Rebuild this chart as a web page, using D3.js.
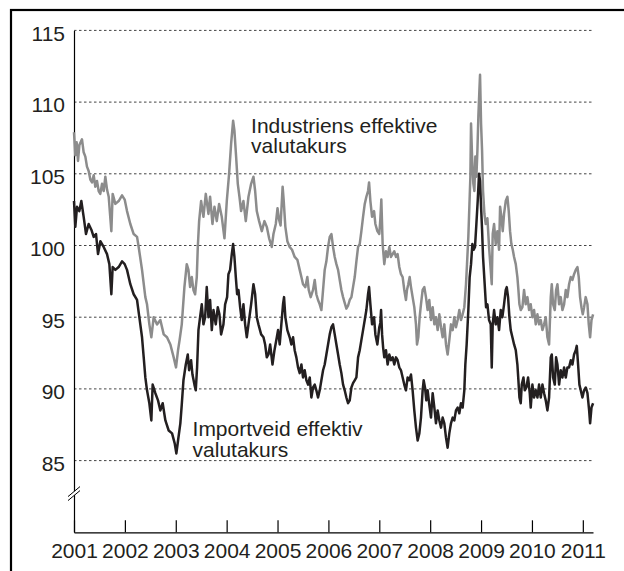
<!DOCTYPE html>
<head>
  <script src="https://d3js.org/d3.v7.min.js"></script>
  <meta charset='utf-8'>
  <style>
    body {
      margin: 0;
      background: white;
    }
    svg text {
      font-family: "Liberation Sans", Arial, Helvetica, sans-serif;
      font-size: 21px;
      fill: #231f20;
    }
  </style>
</head>

<body>
<div id="chart"></div>

<script>

// year ticks on the x axis
const xTicks = [2001, 2002, 2003, 2004, 2005, 2006, 2007, 2008, 2009, 2010, 2011];
// index ticks on the y axis
const yTicks = [85, 90, 95, 100, 105, 110, 115];

// Industriens effektive valutakurs (grey) - [year, index]
const industri = [
  [2001.000,107.9],[2001.026,106.3],[2001.052,107.2],[2001.079,105.9],[2001.105,107.0],[2001.157,107.4],
  [2001.190,106.5],[2001.223,106.2],[2001.255,105.5],[2001.288,105.2],[2001.321,104.6],[2001.354,104.4],
  [2001.387,104.9],[2001.419,104.1],[2001.452,104.5],[2001.485,103.8],[2001.517,103.6],[2001.550,104.3],
  [2001.583,103.8],[2001.616,104.8],[2001.649,103.9],[2001.682,103.4],[2001.734,101.0],[2001.760,103.6],
  [2001.813,102.9],[2001.878,103.1],[2001.944,103.5],[2001.996,103.2],[2002.042,102.4],[2002.107,101.5],
  [2002.173,100.8],[2002.239,100.6],[2002.271,99.9],[2002.337,98.3],[2002.402,96.4],[2002.435,95.9],
  [2002.481,94.5],[2002.520,93.6],[2002.566,95.0],[2002.632,94.5],[2002.697,94.8],[2002.763,93.8],
  [2002.828,93.6],[2002.894,93.1],[2002.959,92.2],[2003.005,91.5],[2003.045,92.7],[2003.075,93.4],
  [2003.118,94.5],[2003.170,97.1],[2003.216,98.7],[2003.249,98.3],[2003.282,97.1],[2003.315,97.8],
  [2003.347,96.9],[2003.380,96.6],[2003.413,97.8],[2003.433,99.9],[2003.459,101.7],[2003.498,103.1],
  [2003.544,102.0],[2003.590,103.6],[2003.642,102.2],[2003.675,103.4],[2003.721,101.5],[2003.760,102.7],
  [2003.806,101.7],[2003.852,102.9],[2003.904,102.0],[2003.957,100.5],[2004.003,103.1],[2004.048,105.0],
  [2004.088,107.1],[2004.127,108.7],[2004.153,108.0],[2004.186,106.2],[2004.219,104.3],[2004.252,103.4],
  [2004.284,102.4],[2004.330,103.1],[2004.376,101.7],[2004.429,103.4],[2004.481,104.3],[2004.527,104.8],
  [2004.560,103.8],[2004.592,102.4],[2004.638,101.7],[2004.691,101.0],[2004.743,101.7],[2004.789,101.3],
  [2004.835,100.5],[2004.887,99.9],[2004.920,100.8],[2004.966,101.5],[2005.000,102.6],[2005.030,101.8],
  [2005.060,101.4],[2005.100,104.1],[2005.120,103.2],[2005.154,101.3],[2005.193,100.3],[2005.239,99.9],
  [2005.285,99.7],[2005.337,99.2],[2005.390,99.0],[2005.436,98.3],[2005.469,97.8],[2005.501,97.3],
  [2005.547,97.1],[2005.586,97.8],[2005.613,96.9],[2005.652,96.4],[2005.698,96.9],[2005.731,97.6],
  [2005.763,96.6],[2005.796,96.2],[2005.829,95.9],[2005.862,95.5],[2005.895,96.9],[2005.927,98.3],
  [2005.960,98.9],[2005.993,99.9],[2006.026,100.6],[2006.059,100.8],[2006.091,99.9],[2006.124,99.2],
  [2006.157,98.7],[2006.190,98.3],[2006.222,97.6],[2006.255,96.9],[2006.288,96.4],[2006.320,96.0],
  [2006.353,95.6],[2006.386,95.8],[2006.419,96.2],[2006.452,96.4],[2006.484,97.1],[2006.517,97.8],
  [2006.550,98.9],[2006.583,99.9],[2006.615,100.1],[2006.648,101.0],[2006.681,102.0],[2006.714,102.9],
  [2006.746,103.4],[2006.779,103.8],[2006.799,104.4],[2006.825,103.1],[2006.858,102.0],[2006.897,102.4],
  [2006.923,101.5],[2006.962,101.0],[2007.000,100.8],[2007.020,101.8],[2007.040,103.2],[2007.066,100.1],
  [2007.098,98.7],[2007.131,99.6],[2007.164,99.2],[2007.197,99.9],[2007.229,99.2],[2007.262,99.4],
  [2007.295,99.6],[2007.328,99.2],[2007.360,99.4],[2007.393,98.5],[2007.426,98.0],[2007.459,97.8],
  [2007.491,96.9],[2007.524,96.2],[2007.544,96.9],[2007.570,97.3],[2007.597,97.8],[2007.623,97.1],
  [2007.655,96.4],[2007.688,95.7],[2007.721,94.5],[2007.741,93.1],[2007.767,93.6],[2007.793,95.0],
  [2007.819,95.9],[2007.852,96.9],[2007.885,97.1],[2007.917,96.4],[2007.950,95.5],[2007.983,96.2],
  [2008.016,94.8],[2008.049,95.7],[2008.082,94.5],[2008.114,95.0],[2008.147,94.1],[2008.180,95.2],
  [2008.213,94.3],[2008.245,93.6],[2008.278,94.5],[2008.311,93.1],[2008.343,92.4],[2008.376,93.4],
  [2008.409,94.5],[2008.442,94.1],[2008.474,95.0],[2008.507,94.3],[2008.540,94.8],[2008.573,95.5],
  [2008.605,94.8],[2008.638,95.2],[2008.671,95.7],[2008.704,97.3],[2008.724,98.7],[2008.750,100.6],
  [2008.770,102.7],[2008.790,104.8],[2008.803,108.5],[2008.823,106.2],[2008.849,104.3],[2008.869,103.8],
  [2008.888,106.2],[2008.908,104.8],[2008.928,106.6],[2008.947,109.0],[2008.967,110.8],[2008.980,111.9],
  [2009.000,108.5],[2009.020,106.6],[2009.039,103.8],[2009.066,102.2],[2009.092,101.5],[2009.125,101.9],
  [2009.157,99.9],[2009.190,98.3],[2009.210,97.3],[2009.229,100.8],[2009.256,101.5],[2009.288,100.1],
  [2009.321,101.0],[2009.354,99.7],[2009.374,102.7],[2009.400,102.0],[2009.426,101.0],[2009.452,102.2],
  [2009.485,103.1],[2009.518,103.4],[2009.544,102.4],[2009.570,101.0],[2009.596,100.1],[2009.623,99.7],
  [2009.649,99.2],[2009.682,98.7],[2009.714,97.8],[2009.734,96.9],[2009.754,95.9],[2009.780,95.5],
  [2009.813,95.7],[2009.845,96.9],[2009.878,95.9],[2009.911,96.4],[2009.944,95.5],[2009.976,95.9],
  [2010.009,95.0],[2010.042,95.5],[2010.075,94.5],[2010.108,95.2],[2010.140,94.5],[2010.173,94.8],
  [2010.206,94.1],[2010.239,94.5],[2010.271,95.0],[2010.304,93.6],[2010.337,93.1],[2010.370,96.4],
  [2010.390,97.3],[2010.416,95.9],[2010.449,95.5],[2010.475,96.9],[2010.501,97.3],[2010.534,95.9],
  [2010.566,96.4],[2010.599,95.5],[2010.632,95.9],[2010.665,96.9],[2010.697,96.4],[2010.730,97.3],
  [2010.763,97.8],[2010.796,97.6],[2010.828,98.0],[2010.861,98.3],[2010.894,98.5],[2010.920,97.8],
  [2010.946,96.4],[2010.973,95.7],[2010.999,95.2],[2011.025,95.7],[2011.056,96.4],[2011.091,95.9],
  [2011.117,94.5],[2011.143,93.6],[2011.170,94.8],[2011.202,95.2]
];

// Importveid effektiv valutakurs (black) - [year, index]
const importveid = [
  [2001.000,103.1],[2001.026,101.3],[2001.059,102.7],[2001.105,102.4],[2001.144,103.1],[2001.190,102.0],
  [2001.236,100.8],[2001.288,101.5],[2001.341,101.1],[2001.387,100.6],[2001.433,100.8],[2001.472,99.4],
  [2001.518,100.3],[2001.583,99.9],[2001.649,99.4],[2001.695,98.7],[2001.734,96.6],[2001.760,98.5],
  [2001.813,98.3],[2001.878,98.5],[2001.944,98.9],[2001.996,98.7],[2002.042,98.3],[2002.107,97.3],
  [2002.173,96.6],[2002.239,96.2],[2002.284,95.0],[2002.337,93.6],[2002.370,92.2],[2002.402,90.8],
  [2002.435,89.9],[2002.481,89.0],[2002.520,87.8],[2002.546,90.3],[2002.599,89.7],[2002.651,89.2],
  [2002.697,88.5],[2002.743,89.0],[2002.796,87.8],[2002.861,87.1],[2002.927,86.9],[2002.979,86.2],
  [2003.012,85.5],[2003.045,86.4],[2003.090,87.6],[2003.118,88.9],[2003.151,90.6],[2003.197,91.7],
  [2003.236,92.4],[2003.262,91.3],[2003.301,92.0],[2003.328,91.0],[2003.367,90.3],[2003.393,89.9],
  [2003.419,91.5],[2003.446,94.1],[2003.478,95.0],[2003.511,95.9],[2003.544,94.5],[2003.577,95.0],
  [2003.609,97.1],[2003.642,95.0],[2003.675,96.2],[2003.708,94.1],[2003.741,95.5],[2003.786,94.5],
  [2003.826,95.7],[2003.858,95.2],[2003.891,93.8],[2003.937,94.5],[2003.970,95.9],[2004.009,96.4],
  [2004.035,98.0],[2004.068,98.3],[2004.101,99.4],[2004.127,100.1],[2004.153,99.2],[2004.180,97.8],
  [2004.206,96.6],[2004.232,96.9],[2004.265,95.7],[2004.297,94.8],[2004.330,95.9],[2004.363,94.5],
  [2004.396,93.6],[2004.429,94.5],[2004.481,95.9],[2004.527,97.3],[2004.560,96.6],[2004.592,95.0],
  [2004.625,94.5],[2004.678,93.8],[2004.724,93.6],[2004.756,93.1],[2004.789,92.2],[2004.822,92.4],
  [2004.855,93.1],[2004.901,91.7],[2004.940,92.7],[2004.986,93.6],[2005.010,94.1],[2005.043,93.1],
  [2005.075,94.5],[2005.108,95.9],[2005.128,96.4],[2005.154,95.0],[2005.193,94.1],[2005.239,93.6],
  [2005.272,93.1],[2005.305,93.6],[2005.337,92.7],[2005.370,92.2],[2005.403,91.5],[2005.436,91.1],
  [2005.469,91.7],[2005.501,90.8],[2005.534,91.3],[2005.567,90.6],[2005.600,90.3],[2005.633,90.8],
  [2005.665,89.4],[2005.698,90.1],[2005.731,90.3],[2005.763,89.9],[2005.796,89.4],[2005.829,89.9],
  [2005.862,90.6],[2005.895,91.3],[2005.927,91.7],[2005.960,92.4],[2005.993,93.1],[2006.026,93.8],
  [2006.059,94.3],[2006.091,94.5],[2006.124,93.8],[2006.157,93.1],[2006.190,92.4],[2006.222,91.7],
  [2006.255,91.1],[2006.288,90.3],[2006.320,89.9],[2006.353,89.4],[2006.386,89.0],[2006.419,89.2],
  [2006.452,90.1],[2006.484,90.4],[2006.517,90.6],[2006.550,90.8],[2006.583,92.2],[2006.615,92.7],
  [2006.648,93.4],[2006.681,94.1],[2006.714,94.8],[2006.746,95.5],[2006.779,96.6],[2006.799,97.1],
  [2006.825,95.9],[2006.858,94.5],[2006.897,95.0],[2006.923,93.8],[2006.962,93.1],[2007.000,94.3],
  [2007.020,94.6],[2007.035,95.5],[2007.055,93.8],[2007.075,92.9],[2007.098,92.2],[2007.131,92.7],
  [2007.164,91.7],[2007.197,92.4],[2007.229,92.0],[2007.262,92.2],[2007.295,91.7],[2007.328,92.2],
  [2007.360,92.0],[2007.393,91.5],[2007.426,91.3],[2007.459,90.8],[2007.491,90.3],[2007.524,89.9],
  [2007.557,90.8],[2007.590,90.6],[2007.623,91.0],[2007.655,89.9],[2007.688,88.5],[2007.721,87.3],
  [2007.754,86.4],[2007.787,86.9],[2007.819,88.0],[2007.852,89.9],[2007.872,90.6],[2007.898,90.1],
  [2007.924,89.2],[2007.950,89.9],[2007.983,88.9],[2008.016,88.0],[2008.049,89.7],[2008.082,88.7],
  [2008.114,87.6],[2008.147,88.5],[2008.180,87.8],[2008.213,87.3],[2008.245,88.0],[2008.278,87.6],
  [2008.311,86.6],[2008.343,85.9],[2008.376,86.9],[2008.409,87.6],[2008.442,88.0],[2008.474,87.8],
  [2008.507,88.5],[2008.540,88.7],[2008.573,88.3],[2008.605,89.0],[2008.638,88.7],[2008.671,89.9],
  [2008.691,91.7],[2008.717,93.1],[2008.750,95.5],[2008.776,97.8],[2008.803,98.7],[2008.829,100.1],
  [2008.855,99.7],[2008.881,99.9],[2008.908,101.5],[2008.934,103.1],[2008.960,105.0],[2008.980,104.5],
  [2009.000,102.7],[2009.020,101.1],[2009.039,99.2],[2009.066,97.6],[2009.098,95.7],[2009.125,95.9],
  [2009.157,94.8],[2009.190,94.5],[2009.210,91.5],[2009.229,94.5],[2009.256,95.5],[2009.288,94.5],
  [2009.321,95.0],[2009.354,94.1],[2009.387,95.5],[2009.419,95.0],[2009.452,95.9],[2009.485,96.9],
  [2009.505,97.1],[2009.531,96.4],[2009.557,95.0],[2009.583,94.1],[2009.616,93.6],[2009.649,93.1],
  [2009.682,92.7],[2009.714,91.7],[2009.734,90.6],[2009.754,89.4],[2009.780,89.0],[2009.800,90.3],
  [2009.833,90.8],[2009.859,89.9],[2009.891,90.1],[2009.924,90.8],[2009.957,89.7],[2009.976,88.7],
  [2010.009,90.3],[2010.042,89.4],[2010.075,89.9],[2010.108,89.4],[2010.140,90.3],[2010.173,89.4],
  [2010.206,90.3],[2010.239,89.7],[2010.271,89.2],[2010.304,88.5],[2010.337,89.4],[2010.370,92.2],
  [2010.390,92.4],[2010.416,90.8],[2010.449,90.3],[2010.475,92.2],[2010.501,91.7],[2010.534,90.3],
  [2010.566,91.3],[2010.599,90.8],[2010.632,91.5],[2010.665,90.8],[2010.697,91.5],[2010.730,91.5],
  [2010.763,92.0],[2010.796,91.7],[2010.828,92.4],[2010.861,92.7],[2010.881,93.0],[2010.907,91.7],
  [2010.933,90.3],[2010.959,89.9],[2010.992,89.4],[2011.025,89.9],[2011.058,90.1],[2011.091,89.7],
  [2011.124,88.5],[2011.143,87.6],[2011.170,88.7],[2011.202,89.0]
];

const labels = [
  {lines: ["Industriens effektive", "valutakurs"], year: 2004.48, value: 107.85},
  {lines: ["Importveid effektiv", "valutakurs"], year: 2003.33, value: 86.7}
];

var width = 624, height = 571;
var margin = {top: 30.4, right: 31, bottom: 38.7, left: 74};

var svg = d3.select("#chart").append("svg")
    .attr("width", width)
    .attr("height", height);

// frame (only top and left edges fall inside the picture)
svg.append("rect")
    .attr("x", 11).attr("y", 10)
    .attr("width", 640).attr("height", 600)
    .attr("fill", "none")
    .attr("stroke", "#000")
    .attr("stroke-width", 2.2);

const x = d3.scaleLinear()
    .domain([2001, 2011.2])
    .range([margin.left, width - margin.right]);

const y = d3.scaleLinear()
    .domain([80, 115])
    .range([height - margin.bottom, margin.top]);

// dotted gridlines
svg.append("g")
  .selectAll("line")
  .data(yTicks)
  .join("line")
    .attr("x1", x(2001)).attr("x2", x(2011.2))
    .attr("y1", d => y(d)).attr("y2", d => y(d))
    .attr("stroke", "#444")
    .attr("stroke-width", 1)
    .attr("stroke-dasharray", "2.5,2.5");

// x axis with ticks pointing up
const xAxis = svg.append("g")
    .attr("transform", `translate(0, ${y(80)})`)
    .call(d3.axisBottom(x).tickValues(xTicks).tickFormat(d3.format("d"))
      .tickSizeInner(-12).tickSizeOuter(0).tickPadding(11));
xAxis.select(".domain").attr("stroke", "#000").attr("stroke-width", 1.2);
xAxis.selectAll(".tick line").attr("stroke", "#000").attr("stroke-width", 1.2);
xAxis.selectAll("text").attr("font-size", null).attr("font-family", null);
xAxis.attr("font-size", null).attr("font-family", null);

// y axis
const yAxis = svg.append("g")
    .attr("transform", `translate(${x(2001)}, 0)`)
    .call(d3.axisLeft(y).tickValues(yTicks).tickSize(0).tickPadding(9));
yAxis.select(".domain").attr("stroke", "#000").attr("stroke-width", 1.2);
yAxis.selectAll("text").attr("dy", "0.47em");
yAxis.attr("font-size", null).attr("font-family", null);

// axis break mark
const yb = y(82.7), xb = x(2001);
svg.append("polygon")
    .attr("points", `${xb-6},${yb+3} ${xb+6},${yb-7} ${xb+6},${yb-3} ${xb-6},${yb+7}`)
    .attr("fill", "white");
[0, 4].forEach(off => {
  svg.append("line")
    .attr("x1", xb - 6).attr("y1", yb + 3 + off)
    .attr("x2", xb + 6).attr("y2", yb - 7 + off)
    .attr("stroke", "#000").attr("stroke-width", 1);
});

const line = d3.line()
    .x(d => x(d[0]))
    .y(d => y(d[1]));

svg.append("path")
    .datum(industri)
    .attr("fill", "none")
    .attr("stroke", "#8c8c8c")
    .attr("stroke-width", 2.5)
    .attr("stroke-linejoin", "round")
    .attr("d", line);

svg.append("path")
    .datum(importveid)
    .attr("fill", "none")
    .attr("stroke", "#231f20")
    .attr("stroke-width", 2.5)
    .attr("stroke-linejoin", "round")
    .attr("d", line);

// series labels
labels.forEach(l => {
  const t = svg.append("text")
      .attr("x", x(l.year))
      .attr("y", y(l.value));
  t.selectAll("tspan")
    .data(l.lines)
    .join("tspan")
      .attr("x", x(l.year))
      .attr("dy", (d, i) => i ? 20.3 : 0)
      .text(d => d);
});

</script>
</body>
